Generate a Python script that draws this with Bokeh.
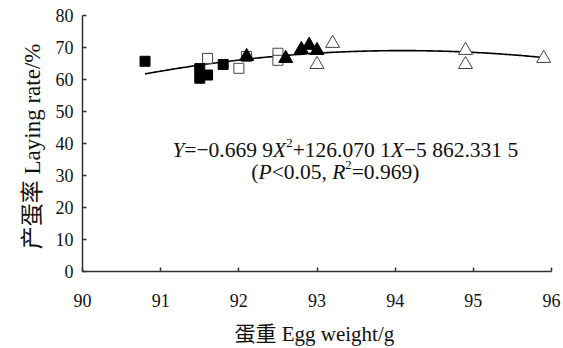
import numpy as np
from bokeh.plotting import figure
from bokeh.models import Range1d, Label, FixedTicker
from bokeh.embed import file_html
from bokeh.resources import INLINE

# ---- data ----
sq_filled_x = [90.8, 91.5, 91.5, 91.6, 91.8]
sq_filled_y = [65.7, 63.4, 60.4, 61.4, 64.7]
sq_open_x = [91.6, 92.0, 92.1, 92.5, 92.5]
sq_open_y = [66.6, 63.5, 67.2, 68.2, 66.0]
tri_filled_x = [92.1, 92.6, 92.8, 92.9, 93.0]
tri_filled_y = [67.2, 66.6, 69.4, 70.7, 69.1]
tri_open_x = [93.2, 93.0, 94.9, 94.9, 95.9]
tri_open_y = [71.3, 64.7, 69.1, 64.7, 66.6]

# fitted curve coefficients (as printed on the chart)
coef_a, coef_b, coef_c = -0.6699, 126.0701, -5862.3315
fit_x_start, fit_x_end = 90.8, 95.9

x_ticks = [90, 91, 92, 93, 94, 95, 96]
y_ticks = [0, 10, 20, 30, 40, 50, 60, 70, 80]

FONT = "Liberation Serif, Noto Sans CJK SC"

p = figure(width=563, height=348, output_backend="svg", toolbar_location=None,
           x_range=Range1d(90, 96), y_range=Range1d(0, 80),
           min_border_left=82, min_border_right=12, min_border_top=15,
           min_border_bottom=76)
p.outline_line_color = None
p.xgrid.visible = False
p.ygrid.visible = False

for ax, ticks in ((p.xaxis[0], x_ticks), (p.yaxis[0], y_ticks)):
    ax.ticker = FixedTicker(ticks=ticks)
    ax.minor_tick_line_color = None
    ax.major_tick_in = 4
    ax.major_tick_out = 0
    ax.axis_line_color = "#333333"
    ax.axis_line_width = 1.5
    ax.major_tick_line_color = "#333333"
    ax.major_tick_line_width = 1.5
    ax.major_label_text_font = FONT
    ax.major_label_text_font_size = "18px"
    ax.major_label_text_color = "#111111"
    ax.axis_label_text_font = FONT
    ax.axis_label_text_font_style = "normal"
    ax.axis_label_text_color = "#111111"

p.xaxis.axis_label = "蛋重  Egg weight/g"
p.yaxis.axis_label = "产蛋率  Laying rate/%"
p.xaxis.axis_label_text_font_size = "21px"
p.yaxis.axis_label_text_font_size = "23px"
p.xaxis.major_label_standoff = 22
p.xaxis.axis_label_standoff = 12
p.yaxis.major_label_standoff = 9
p.yaxis.axis_label_standoff = 8

# fitted curve
fx = np.linspace(fit_x_start, fit_x_end, 200)
fy = coef_a * fx**2 + coef_b * fx + coef_c
p.line(fx, fy, line_color="black", line_width=1.6)

# markers
p.scatter(sq_open_x, sq_open_y, marker="square", size=10, fill_color="white",
          line_color="#444444", line_width=1)
p.scatter(sq_filled_x, sq_filled_y, marker="square", size=10, fill_color="black",
          line_color="black")
p.scatter(tri_open_x, tri_open_y, marker="triangle", size=14, fill_color="white",
          line_color="#444444", line_width=1)
p.scatter(tri_filled_x, tri_filled_y, marker="triangle", size=14, fill_color="black",
          line_color="black")

# equation annotation
EQ_SIZE = 21.5
WIDTH = {"0": .5, "1": .5, "2": .5, "3": .5, "4": .5, "5": .5, "6": .5, "7": .5,
         "8": .5, "9": .5, ".": .25, " ": .25, "=": .564, "−": .564, "+": .564,
         "(": .333, ")": .333, ",": .25, "<": .564, "Y": .556, "X": .611,
         "P": .611, "R": .611}

def put_segments(x, y, segs):
    off = 0.0
    for text, style, sup in segs:
        size = EQ_SIZE * (0.6 if sup else 1.0)
        p.add_layout(Label(x=x, y=y, x_offset=off, y_offset=(7 if sup else 0),
                           text=text, text_font=FONT,
                           text_font_size=f"{size:.1f}px",
                           text_font_style=style, text_color="#111111",
                           text_baseline="alphabetic", text_align="left"))
        off += sum(WIDTH.get(c, .5) for c in text) * size

put_segments(91.15, 38.0, [
    ("Y", "italic", False), ("=−0.669 9", "normal", False), ("X", "italic", False),
    ("2", "normal", True), ("+126.070 1", "normal", False), ("X", "italic", False),
    ("−5 862.331 5", "normal", False)])
put_segments(92.16, 31.1, [
    ("(", "normal", False), ("P", "italic", False), ("<0.05, ", "normal", False),
    ("R", "italic", False), ("2", "normal", True), ("=0.969)", "normal", False)])

open("out.html", "w").write(file_html(p, INLINE))
